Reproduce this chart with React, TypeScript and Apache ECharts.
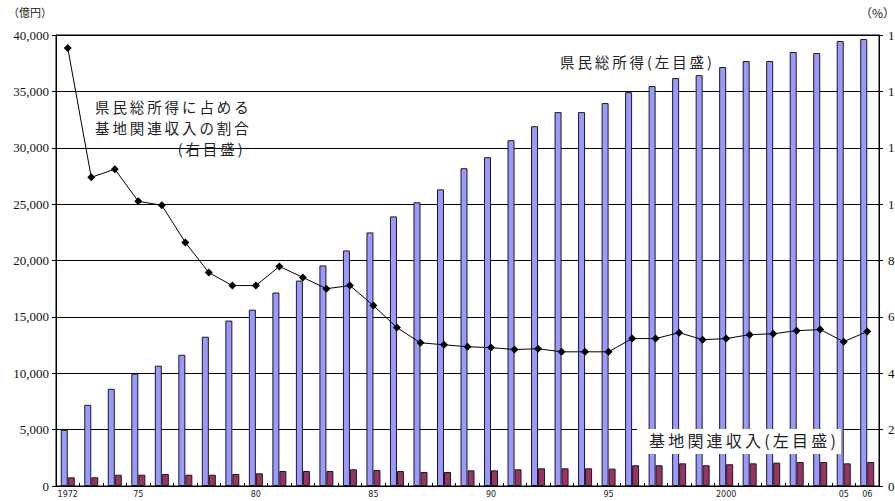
import React, { useEffect, useRef } from "react";
import * as echarts from "echarts";

const years = [
  "1972", "1973", "1974", "1975", "1976", "1977", "1978", "1979", "1980", "1981",
  "1982", "1983", "1984", "1985", "1986", "1987", "1988", "1989", "1990", "1991",
  "1992", "1993", "1994", "1995", "1996", "1997", "1998", "1999", "2000", "2001",
  "2002", "2003", "2004", "2005", "2006",
];
const yearLabels = [
  "1972", "", "", "75", "", "", "", "", "80", "",
  "", "", "", "85", "", "", "", "", "90", "",
  "", "", "", "95", "", "", "", "", "2000", "",
  "", "", "", "05", "06",
];
// 県民総所得 (億円)
const totalIncome = [
  4980, 7200, 8620, 9960, 10670, 11640, 13240, 14670, 15640, 17160,
  18220, 19560, 20890, 22490, 23910, 25160, 26310, 28180, 29160, 30670,
  31910, 33160, 33160, 33960, 34930, 35470, 36180, 36440, 37160, 37690,
  37690, 38490, 38400, 39470, 39640,
];
// 基地関連収入 (億円)
const baseIncome = [
  770, 770, 1000, 1000, 1065, 1000, 1000, 1065, 1125, 1330,
  1330, 1330, 1480, 1420, 1330, 1240, 1240, 1390, 1390, 1480,
  1570, 1570, 1570, 1540, 1840, 1840, 2010, 1840, 1930, 2010,
  2070, 2130, 2130, 2010, 2130,
];
// 県民総所得に占める基地関連収入の割合 (%)
const ratio = [
  15.54, 10.95, 11.24, 10.1, 9.96, 8.64, 7.57, 7.11, 7.11, 7.79,
  7.4, 7.0, 7.11, 6.4, 5.62, 5.08, 5.01, 4.94, 4.91, 4.84,
  4.87, 4.76, 4.76, 4.76, 5.23, 5.23, 5.44, 5.19, 5.23, 5.37,
  5.4, 5.51, 5.55, 5.12, 5.48,
];
const leftTicks = { min: 0, max: 40000, interval: 5000 };
const rightTicks = { min: 0, max: 16, interval: 2 };

const serif = "'Liberation Serif', 'Times New Roman', serif";
const cjk = "'Noto Sans CJK JP', 'Noto Sans', sans-serif";
const spaced = (s: string) => Array.from(s).join("\u2009");

export default function App() {
  const ref = useRef<HTMLDivElement>(null);
  useEffect(() => {
    document.body.style.margin = "0";
    if (!ref.current) return;
    const chart = echarts.init(ref.current, null, { renderer: "svg" });
    chart.setOption({
      animation: false,
      backgroundColor: "#fff",
      grid: {
        left: 56,
        right: 16,
        top: 35,
        bottom: 15,
        containLabel: false,
        outerBoundsMode: "none",
        show: true,
        borderColor: "#000",
        borderWidth: 1,
        backgroundColor: "transparent",
      },
      xAxis: {
        type: "category",
        data: years,
        boundaryGap: true,
        axisLine: { show: true, lineStyle: { color: "#000", width: 1 } },
        axisTick: { show: true, inside: true, length: 3, interval: 0, lineStyle: { color: "#000" } },
        axisLabel: {
          interval: 0,
          margin: 4,
          fontSize: 8,
          color: "#222",
          fontFamily: "'DejaVu Sans', sans-serif",
          formatter: (_v: string, i: number) => yearLabels[i],
        },
        splitLine: { show: false },
      },
      yAxis: [
        {
          type: "value",
          min: leftTicks.min,
          max: leftTicks.max,
          interval: leftTicks.interval,
          axisLine: { show: true, lineStyle: { color: "#000", width: 1 } },
          axisTick: { show: true, length: 4, lineStyle: { color: "#000" } },
          axisLabel: {
            margin: 7,
            fontSize: 13,
            color: "#111",
            fontFamily: serif,
            formatter: (v: number) => v.toLocaleString("en-US"),
          },
          splitLine: { show: true, lineStyle: { color: "#000", width: 1 } },
        },
        {
          type: "value",
          min: rightTicks.min,
          max: rightTicks.max,
          interval: rightTicks.interval,
          position: "right",
          axisLine: { show: true, lineStyle: { color: "#000", width: 1 } },
          axisTick: { show: true, length: 4, lineStyle: { color: "#000" } },
          axisLabel: { margin: 9, fontSize: 13, color: "#111", fontFamily: serif },
          splitLine: { show: false },
        },
      ],
      series: [
        {
          name: "県民総所得",
          type: "bar",
          data: totalIncome,
          barWidth: 7,
          barGap: "0%",
          itemStyle: { color: "#9999FF", borderColor: "#1a1a1a", borderWidth: 1 },
        },
        {
          name: "基地関連収入",
          type: "bar",
          data: baseIncome,
          barWidth: 7,
          barGap: "0%",
          itemStyle: { color: "#993366", borderColor: "#1a1a1a", borderWidth: 1 },
        },
        {
          name: "割合",
          type: "line",
          yAxisIndex: 1,
          data: ratio,
          symbol: "diamond",
          symbolSize: 8,
          lineStyle: { color: "#000", width: 1 },
          itemStyle: { color: "#000" },
          z: 5,
        },
      ],
      graphic: [
        { type: "text", left: 8, top: 6, style: { text: "（億円）", font: `11px ${cjk}`, fill: "#222" } },
        { type: "text", left: 860, top: 6, style: { text: "（%）", font: `12px ${cjk}`, fill: "#222" } },
        {
          type: "text",
          left: 560,
          top: 54,
          z: 10,
          style: { text: spaced("県民総所得(左目盛)"), font: `14.5px ${cjk}`, fill: "#222" },
        },
        {
          type: "text",
          left: 95,
          top: 96,
          z: 10,
          style: {
            text:
              spaced("県民総所得に占める") +
              "\n" +
              spaced("基地関連収入の割合") +
              "\n" +
              "\u3000\u3000\u3000\u3000\u3000\u2002\u2009" +
              spaced("(右目盛)"),
            font: `14.5px ${cjk}`,
            lineHeight: 21,
            fill: "#222",
          },
        },
        {
          type: "rect",
          shape: { x: 637, y: 429, width: 204, height: 25 },
          z: 20,
          style: { fill: "#fff" },
        },
        {
          type: "text",
          left: 649,
          top: 432,
          z: 21,
          style: { text: spaced("基地関連収入(左目盛)"), font: `16px ${cjk}`, fill: "#222" },
        },
      ],
    });
    return () => chart.dispose();
  }, []);
  return <div ref={ref} style={{ width: 895, height: 501 }} />;
}
